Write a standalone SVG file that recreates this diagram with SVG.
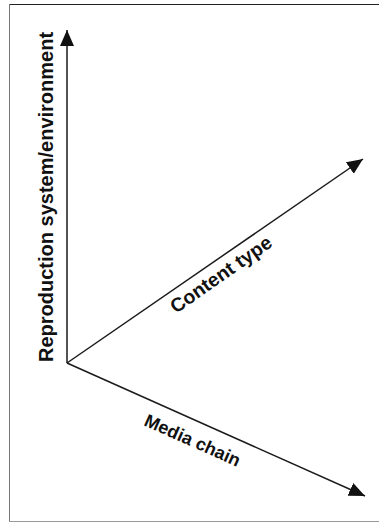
<svg xmlns="http://www.w3.org/2000/svg" width="379" height="523" viewBox="0 0 379 523">
  <style>
    .axis { fill: none; stroke: #1a1a1a; stroke-width: 1.5; }
    .label { font-family: "Liberation Sans", Arial, sans-serif; font-weight: bold; fill: #111; }
  </style>
  <defs>
    <marker id="head" markerUnits="userSpaceOnUse" markerWidth="18" markerHeight="16" refX="16" refY="7" orient="auto">
      <path d="M0,0 L16,7 L0,14 Z" fill="#111"/>
    </marker>
  </defs>
  <rect width="379" height="523" fill="#fff"/>
  <!-- frame -->
  <g id="frame">
    <line x1="9" y1="4.5" x2="379" y2="4.5" stroke="#222" stroke-width="1.2"/>
    <line x1="9.5" y1="4" x2="9.5" y2="522" stroke="#777" stroke-width="1"/>
    <line x1="9" y1="521.5" x2="379" y2="521.5" stroke="#999" stroke-width="1"/>
  </g>
  <!-- three axes from a common origin -->
  <g id="connectors">
    <path class="axis" d="M67,363 L67,30" marker-end="url(#head)"/>
    <path class="axis" d="M67,363 L363,159" marker-end="url(#head)"/>
    <path class="axis" d="M67,363 L365,496" marker-end="url(#head)"/>
  </g>
  <g id="reproduction">
    <text class="label" font-size="20" transform="translate(53,362) rotate(-90)">Reproduction system/environment</text>
  </g>
  <g id="content">
    <text class="label" font-size="19.5" transform="translate(176,314) rotate(-35)">Content type</text>
  </g>
  <g id="media">
    <text class="label" font-size="18" transform="translate(143,425) rotate(24)">Media chain</text>
  </g>
</svg>
